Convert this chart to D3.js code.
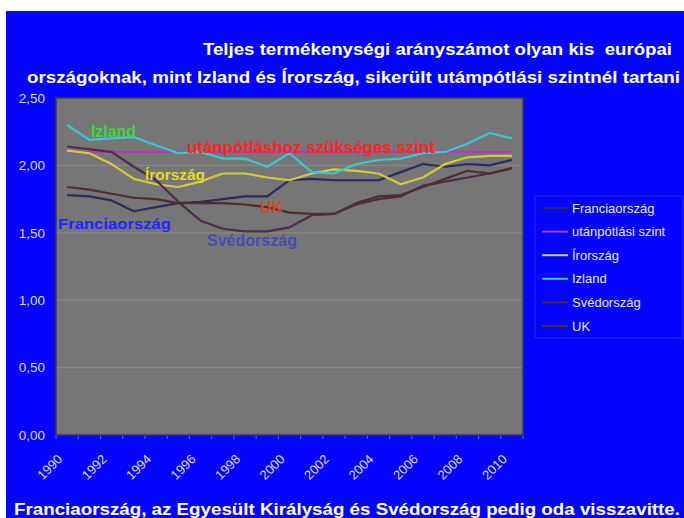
<!DOCTYPE html>
<html><head><meta charset="utf-8">
<script src="https://cdn.jsdelivr.net/npm/d3@7/dist/d3.min.js"></script>
<style>
body{margin:0;background:#fff}
svg{display:block}
text{font-family:"Liberation Sans",Arial,sans-serif;white-space:pre}
</style>
</head><body>
<svg id="c" width="684" height="518"></svg>
<script>
const years = [1990,1991,1992,1993,1994,1995,1996,1997,1998,1999,2000,2001,2002,2003,2004,2005,2006,2007,2008,2009,2010];
const yearTickLabels = ["1990","1992","1994","1996","1998","2000","2002","2004","2006","2008","2010"];
const yTickValues = [0,0.5,1,1.5,2,2.5];
const francia = [1.78,1.77,1.74,1.66,1.69,1.72,1.73,1.75,1.77,1.77,1.89,1.90,1.89,1.89,1.89,1.95,2.01,1.99,2.01,2.00,2.04];
const utanpotlas = [2.10,2.10,2.10,2.10,2.10,2.10,2.10,2.10,2.10,2.10,2.10,2.10,2.10,2.10,2.10,2.10,2.10,2.10,2.10,2.10,2.10];
const irorszag = [2.11,2.09,2.01,1.90,1.86,1.84,1.88,1.94,1.94,1.91,1.89,1.94,1.97,1.96,1.94,1.86,1.91,2.01,2.06,2.07,2.07];
const izland = [2.30,2.19,2.20,2.21,2.15,2.09,2.10,2.05,2.05,1.99,2.09,1.95,1.94,2.01,2.04,2.05,2.09,2.10,2.16,2.24,2.20];
const svedorszag = [2.14,2.12,2.10,1.99,1.89,1.73,1.59,1.53,1.51,1.51,1.54,1.63,1.64,1.71,1.75,1.77,1.85,1.88,1.91,1.94,1.98];
const uk = [1.84,1.82,1.79,1.76,1.75,1.72,1.72,1.72,1.71,1.69,1.65,1.64,1.64,1.72,1.77,1.78,1.84,1.90,1.96,1.94,1.98];
const seriesNames = ["Franciaország","utánpótlási szint","Írország","Izland","Svédország","UK"];
const seriesColors = ["#2c2c5a","#b23cb4","#d6cc3a","#38c8d2","#4c2c4a","#4c3030"];
const titleLines = ["Teljes termékenységi arányszámot olyan kis  európai","országoknak, mint Izland és Írország, sikerült utámpótlási szintnél tartani"];
const footerText = "Franciaország, az Egyesült Királyság és Svédország pedig oda visszavitte.";
const annotations = [
  {text:"Izland", year:1991.07, value:2.21, color:"#44d444", size:16, len:45},
  {text:"utánpótláshoz szükséges szint", year:1995.39, value:2.092, color:"#ff2222", size:17, len:248},
  {text:"Írország", year:1993.5, value:1.895, color:"#e2dc24", size:15.5, len:60},
  {text:"UK", year:1998.67, value:1.65, color:"#d24c22", size:16, len:23},
  {text:"Franciaország", year:1989.59, value:1.53, color:"#2424ff", size:15.5, len:113},
  {text:"Svédország", year:1996.29, value:1.40, color:"#4a4ab4", size:16, len:90}
];

const seriesData = [francia, utanpotlas, irorszag, izland, svedorszag, uk];

const svg = d3.select("#c");
const W = 684, H = 518;
const plot = {l:56, t:98, r:523, b:435};

// backgrounds
svg.append("rect").attr("x",0).attr("y",0).attr("width",W).attr("height",H).attr("fill","#ffffff");
svg.append("rect").attr("x",6).attr("y",11).attr("width",W-6).attr("height",H-11).attr("fill","#0505ff");

const x = d3.scalePoint().domain(years).range([plot.l, plot.r]).padding(0.5);
const xBand = d3.scaleBand().domain(years).range([plot.l, plot.r]);
const y = d3.scaleLinear().domain([0,2.5]).range([plot.b, plot.t]);
const yearX = v => x(years[0]) + (v - years[0]) * x.step();

svg.append("rect").attr("x",plot.l).attr("y",plot.t).attr("width",plot.r-plot.l).attr("height",plot.b-plot.t)
  .attr("fill","#767676");

// gridlines
svg.append("g").selectAll("line").data(yTickValues.filter(v=>v>0 && v<2.5)).join("line")
  .attr("x1",plot.l).attr("x2",plot.r).attr("y1",d=>y(d)).attr("y2",d=>y(d))
  .attr("stroke","#888888").attr("stroke-width",1.2);

// y axis
const yAxis = d3.axisLeft(y).tickValues(yTickValues).tickSize(0).tickPadding(11)
  .tickFormat(d => d3.format(".2f")(d).replace(".",","));
const gy = svg.append("g").attr("transform",`translate(${plot.l},0)`).call(yAxis);
gy.select(".domain").remove();
gy.selectAll("text").attr("fill","#dcdcff").attr("font-size",13.5);

// x axis ticks (category boundaries) and labels
const gx = svg.append("g");
gx.selectAll("line").data(years.concat([null])).join("line")
  .attr("x1",(d,i)=>plot.l + i*xBand.step()).attr("x2",(d,i)=>plot.l + i*xBand.step())
  .attr("y1",plot.b).attr("y2",plot.b+4).attr("stroke","#6a6aff").attr("stroke-width",1);
gx.selectAll("text").data(yearTickLabels).join("text")
  .attr("transform",d=>`translate(${x(+d)-4},${plot.b+25}) rotate(-45)`)
  .attr("text-anchor","end").attr("fill","#dcdcff").attr("font-size",13).text(d=>d);

// lines
const line = d3.line().x((d,i)=>x(years[i])).y(d=>y(d));
svg.append("g").selectAll("path").data(seriesData).join("path")
  .attr("d",d=>line(d)).attr("fill","none")
  .attr("stroke",(d,i)=>seriesColors[i]).attr("stroke-width",2.2).attr("stroke-linejoin","round");

// plot border
svg.append("rect").attr("x",plot.l).attr("y",plot.t).attr("width",plot.r-plot.l).attr("height",plot.b-plot.t)
  .attr("fill","none").attr("stroke","#3c3c3c").attr("stroke-width",1.5);

// annotations
svg.append("g").selectAll("text").data(annotations).join("text")
  .attr("x",d=>yearX(d.year)).attr("y",d=>y(d.value))
  .attr("fill",d=>d.color).attr("font-size",d=>d.size).attr("font-weight","bold")
  .attr("textLength",d=>d.len).attr("lengthAdjust","spacingAndGlyphs")
  .text(d=>d.text);

// legend
const lg = svg.append("g");
lg.append("rect").attr("x",535).attr("y",196).attr("width",148).attr("height",142)
  .attr("fill","none").attr("stroke","#2a2ae6").attr("stroke-width",1);
const rowY = i => 208 + i*23.6;
lg.selectAll("line").data(seriesNames).join("line")
  .attr("x1",542).attr("x2",568).attr("y1",(d,i)=>rowY(i)).attr("y2",(d,i)=>rowY(i))
  .attr("stroke",(d,i)=>seriesColors[i]).attr("stroke-width",2);
lg.selectAll("text").data(seriesNames).join("text")
  .attr("x",572).attr("y",(d,i)=>rowY(i)).attr("dy","0.35em")
  .attr("fill","#e8e8ff").attr("font-size",13).text(d=>d);

// titles
svg.append("text").attr("x",203).attr("y",55).attr("fill","#ffffff").attr("font-size",16).attr("font-weight","bold")
  .attr("textLength",469).attr("lengthAdjust","spacingAndGlyphs").text(titleLines[0]);
svg.append("text").attr("x",27).attr("y",83).attr("fill","#ffffff").attr("font-size",16).attr("font-weight","bold")
  .attr("textLength",653).attr("lengthAdjust","spacingAndGlyphs").text(titleLines[1]);
svg.append("text").attr("x",14).attr("y",515).attr("fill","#ffffff").attr("font-size",16).attr("font-weight","bold")
  .attr("textLength",666).attr("lengthAdjust","spacingAndGlyphs").text(footerText);
</script>
</body></html>
